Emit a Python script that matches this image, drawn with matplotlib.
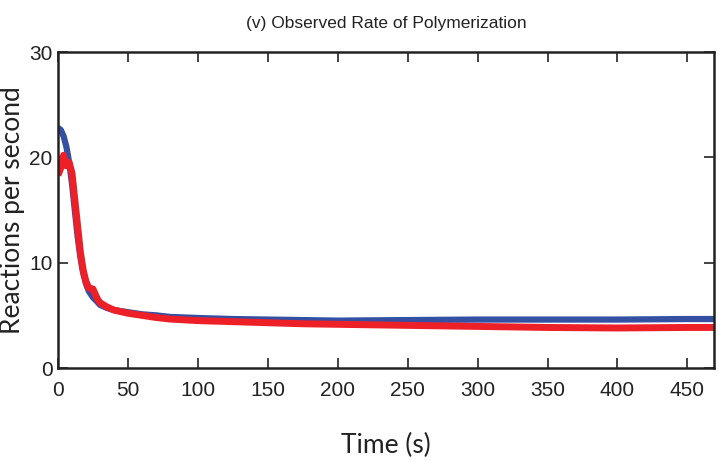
import matplotlib.pyplot as plt
import numpy as np

# time points (s) and observed rates for the two runs
t = [0, 2, 4, 6, 8, 10, 12, 14, 16, 18, 20, 22, 25, 28, 30, 35, 40, 50, 60, 70,
     80, 100, 125, 150, 175, 200, 250, 300, 350, 400, 450, 470]
rate_blue = [22.8, 22.6, 22.0, 21.0, 19.5, 17.5, 15.0, 12.5, 10.5, 9.0, 8.0, 7.3,
             6.7, 6.3, 6.0, 5.7, 5.5, 5.3, 5.1, 5.0, 4.85, 4.75, 4.65, 4.6, 4.55,
             4.5, 4.55, 4.6, 4.6, 4.6, 4.65, 4.65]
rate_red = [18.3, 19.0, 20.2, 19.2, 19.5, 18.5, 16.0, 13.5, 11.0, 9.3, 8.2, 7.6,
            7.5, 6.6, 6.2, 5.8, 5.5, 5.2, 5.0, 4.8, 4.65, 4.5, 4.4, 4.3, 4.2,
            4.15, 4.05, 3.95, 3.85, 3.8, 3.85, 3.85]

xticks = np.arange(0, 451, 50)
yticks = [0, 10, 20, 30]

fig = plt.figure(figsize=(7.18, 4.61), dpi=100)
ax = fig.add_axes([0.0808, 0.2017, 0.9136, 0.6855])

ax.plot(t, rate_blue, color='#3350a3', lw=4.5, solid_capstyle='butt')
ax.plot(t, rate_red, color='#ee2027', lw=5, solid_capstyle='butt')

ax.set_xlim(0, 469)
ax.set_ylim(0, 30)
ax.set_xticks(xticks)
ax.set_yticks(yticks)
ax.tick_params(direction='in', length=7, width=1.2, top=True, right=True,
               labelsize=15, color='#222222', labelcolor='#222222')
ax.tick_params(axis='x', pad=9)
ax.tick_params(axis='y', pad=4)
for lab in ax.get_xticklabels() + ax.get_yticklabels():
    lab.set_family('Liberation Sans')
for s in ax.spines.values():
    s.set_linewidth(1.8)
    s.set_color('#222222')

ax.set_title('(v) Observed Rate of Polymerization', fontsize=12.5,
             family='Liberation Sans', pad=17, color='#222222')
ax.set_xlabel('Time (s)', fontsize=19, family='Lato', labelpad=24,
              color='#222222')
ax.set_ylabel('Reactions per second', fontsize=19, family='Lato',
              color='#222222')
ax.yaxis.set_label_coords(-0.05, 0.5)

fig.savefig('out.png', dpi=100)
